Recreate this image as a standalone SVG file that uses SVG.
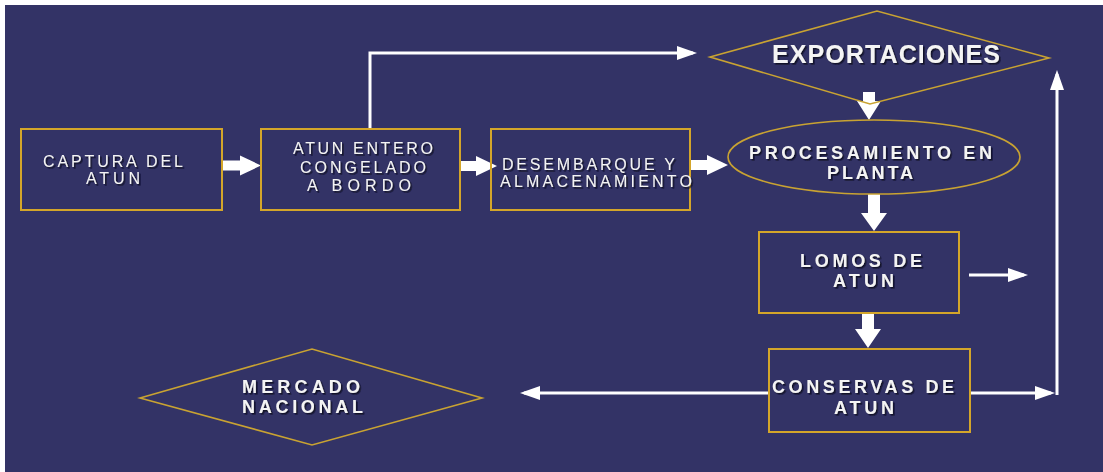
<svg xmlns="http://www.w3.org/2000/svg" width="1103" height="472" viewBox="0 0 1103 472">
  <defs>
    <style>
      .box { fill: none; stroke: #d4a62a; stroke-width: 2; }
      .shape { fill: none; stroke: #c9a332; stroke-width: 1.6; }
      .lbl { font-family: "Liberation Sans", Arial, sans-serif; font-size: 16px; fill: #f4f4f4; text-anchor: middle; }
      .lbl.b { font-weight: bold; font-size: 18px; }
      .lbl.big { font-weight: bold; font-size: 25px; }
      .blk { fill: #ffffff; }
      .thin { fill: none; stroke: #ffffff; stroke-width: 3; marker-end: url(#head); }
      .sh { filter: url(#shadow); }
    </style>
    <filter id="shadow" x="-10%" y="-20%" width="120%" height="150%">
      <feDropShadow dx="1.6" dy="1.6" stdDeviation="0.3" flood-color="#101020" flood-opacity="0.9"/>
    </filter>
    <marker id="head" markerUnits="userSpaceOnUse" markerWidth="20" markerHeight="14" refX="16" refY="7" orient="auto">
      <path d="M0,0 L20,7 L0,14 Z" fill="#ffffff"/>
    </marker>
  </defs>

  <!-- page -->
  <rect x="0" y="0" width="1103" height="472" fill="#ffffff"/>
  <rect x="5" y="5" width="1098" height="467" fill="#333366"/>

  <!-- connectors -->
  <g id="connectors">
    <!-- block arrows along the main row -->
    <polygon class="blk" points="222,160.5 240,160.5 240,155.5 261,165.5 240,175.5 240,170.5 222,170.5"/>
    <polygon class="blk" points="460,161 476,161 476,156 497,166 476,176 476,171 460,171"/>
    <polygon class="blk" points="689,160 707,160 707,155 728,165 707,175 707,170 689,170"/>
    <!-- block arrows down the right column -->
    <polygon class="blk" points="863,92 875,92 875,101 881,101 869,120 857,101 863,101"/>
    <polygon class="blk" points="868,194 880,194 880,213 887,213 874,231 861,213 868,213"/>
    <polygon class="blk" points="862,313 874,313 874,329 881,329 868,348 855,329 862,329"/>
    <!-- thin lines -->
    <path class="thin" d="M370,129 V53 H693"/>
    <path class="thin" d="M969,275 H1024"/>
    <path class="thin" d="M769,393 H524"/>
    <path class="thin" d="M970,393 H1051"/>
    <path class="thin" d="M1057,395 V74"/>
  </g>

  <g id="captura">
    <rect class="box" x="21" y="129" width="201" height="81"/>
    <g class="sh">
      <text class="lbl" x="113" y="167" textLength="140">CAPTURA DEL</text>
      <text class="lbl" x="113" y="184" textLength="54">ATUN</text>
    </g>
  </g>

  <g id="atun-entero">
    <rect class="box" x="261" y="129" width="199" height="81"/>
    <g class="sh">
      <text class="lbl" x="363" y="154" textLength="140">ATUN ENTERO</text>
      <text class="lbl" x="363" y="173" textLength="126">CONGELADO</text>
      <text class="lbl" x="359" y="191" textLength="104">A BORDO</text>
    </g>
  </g>

  <g id="desembarque">
    <rect class="box" x="491" y="129" width="199" height="81"/>
    <g class="sh">
      <text class="lbl" x="588.5" y="170" textLength="173">DESEMBARQUE Y</text>
      <text class="lbl" x="596" y="187" textLength="192">ALMACENAMIENTO</text>
    </g>
  </g>

  <g id="exportaciones">
    <polygon class="shape" points="710,57 877,11 1049,58 870,104"/>
    <text class="lbl big sh" x="886" y="63" textLength="228">EXPORTACIONES</text>
  </g>

  <g id="procesamiento">
    <ellipse class="shape" cx="874" cy="157" rx="146" ry="37"/>
    <g class="sh">
      <text class="lbl b" x="870.5" y="159" textLength="243">PROCESAMIENTO EN</text>
      <text class="lbl b" x="870" y="179" textLength="86">PLANTA</text>
    </g>
  </g>

  <g id="lomos">
    <rect class="box" x="759" y="232" width="200" height="81"/>
    <g class="sh">
      <text class="lbl b" x="861" y="267" textLength="122">LOMOS DE</text>
      <text class="lbl b" x="863.5" y="287" textLength="61">ATUN</text>
    </g>
  </g>

  <g id="conservas">
    <rect class="box" x="769" y="349" width="201" height="83"/>
    <g class="sh">
      <text class="lbl b" x="863" y="393" textLength="182">CONSERVAS DE</text>
      <text class="lbl b" x="864" y="414" textLength="60">ATUN</text>
    </g>
  </g>

  <g id="mercado-nacional">
    <polygon class="shape" points="140,398 312,349 482,398 312,445"/>
    <g class="sh">
      <text class="lbl b" x="301" y="393" textLength="118">MERCADO</text>
      <text class="lbl b" x="302.5" y="413" textLength="121">NACIONAL</text>
    </g>
  </g>
</svg>
